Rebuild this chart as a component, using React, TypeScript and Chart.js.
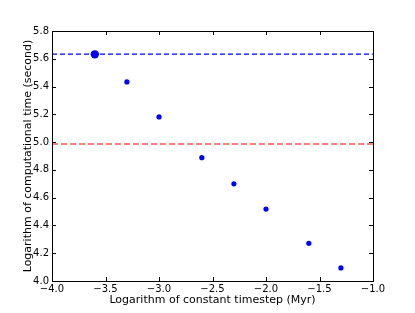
import React, { useEffect, useRef } from "react";
import { Chart, registerables } from "chart.js";

Chart.register(...registerables);

const timestepLog = [-3.6, -3.3, -3.0, -2.6, -2.3, -2.0, -1.6, -1.3];
const compTimeLog = [5.632, 5.433, 5.181, 4.888, 4.70, 4.518, 4.271, 4.094];
const blueLineY = 5.634;
const redLineY = 4.986;
const xRange = [-4.0, -1.0];
const yRange = [4.0, 5.8];
const xTicks = [-4.0, -3.5, -3.0, -2.5, -2.0, -1.5, -1.0];
const yTicks = [4.0, 4.2, 4.4, 4.6, 4.8, 5.0, 5.2, 5.4, 5.6, 5.8];
const xTitle = "Logarithm of constant timestep (Myr)";
const yTitle = "Logarithm of computational time (second)";

const fmt = (v: number) => {
  const s = Math.abs(v).toFixed(1);
  return v < 0 ? "\u2212" + s : s;
};

const framePlugin = {
  id: "frameTicks",
  afterDatasetsDraw(chart: any) {
    const { ctx, chartArea } = chart;
    const { left, right, top, bottom } = chartArea;
    const xs = chart.scales.x;
    const ys = chart.scales.y;
    ctx.save();
    ctx.strokeStyle = "#000";
    ctx.lineWidth = 1;
    const tl = 4;
    ctx.beginPath();
    xTicks.forEach((t) => {
      const px = Math.round(xs.getPixelForValue(t)) + 0.5;
      ctx.moveTo(px, bottom);
      ctx.lineTo(px, bottom - tl);
      ctx.moveTo(px, top);
      ctx.lineTo(px, top + tl);
    });
    yTicks.forEach((t) => {
      const py = Math.round(ys.getPixelForValue(t)) + 0.5;
      ctx.moveTo(left, py);
      ctx.lineTo(left + tl, py);
      ctx.moveTo(right, py);
      ctx.lineTo(right - tl, py);
    });
    ctx.stroke();
    ctx.strokeRect(Math.round(left) + 0.5, Math.round(top) + 0.5, Math.round(right - left), Math.round(bottom - top));
    ctx.restore();
  },
};

export default function App() {
  const ref = useRef<HTMLCanvasElement>(null);
  useEffect(() => {
    if (!ref.current) return;
    const font = { family: "'DejaVu Sans', sans-serif", size: 10 };
    const titleFont = { family: "'DejaVu Sans', sans-serif", size: 11 };
    const chart = new Chart(ref.current, {
      type: "scatter",
      data: {
        datasets: [
          {
            data: timestepLog.map((x, i) => ({ x, y: compTimeLog[i] })),
            backgroundColor: "#0000ff",
            borderColor: "#0000ff",
            pointRadius: (c: any) => (c.dataIndex === 0 ? 4.2 : 2.6),
            pointBorderWidth: 0,
            showLine: false,
          },
          {
            data: [
              { x: xRange[0], y: blueLineY },
              { x: xRange[1], y: blueLineY },
            ],
            showLine: true,
            borderColor: "#0000ff",
            borderWidth: 1.3,
            borderDash: [5, 3],
            pointRadius: 0,
          },
          {
            data: [
              { x: xRange[0], y: redLineY },
              { x: xRange[1], y: redLineY },
            ],
            showLine: true,
            borderColor: "rgba(255,0,0,0.5)",
            borderWidth: 2,
            borderDash: [6, 3],
            pointRadius: 0,
          },
        ],
      } as any,
      plugins: [framePlugin],
      options: {
        animation: false,
        responsive: false,
        layout: { padding: { top: 31, right: 42, left: 0, bottom: 0 } },
        plugins: { legend: { display: false }, tooltip: { enabled: false } },
        scales: {
          x: {
            type: "linear",
            min: xRange[0],
            max: xRange[1],
            afterBuildTicks: (s: any) => {
              s.ticks = xTicks.map((v) => ({ value: v }));
            },
            afterFit: (s: any) => {
              s.height = 32;
            },
            grid: { display: false, drawTicks: false },
            border: { display: false },
            ticks: {
              color: "#000",
              font,
              padding: 2,
              maxRotation: 0,
              autoSkip: false,
              callback: (v: any) => fmt(Number(v)),
            },
            title: {
              display: true,
              text: xTitle,
              color: "#000",
              font: titleFont,
              padding: { top: 0, bottom: 6 },
            },
          },
          y: {
            type: "linear",
            min: yRange[0],
            max: yRange[1],
            afterBuildTicks: (s: any) => {
              s.ticks = yTicks.map((v) => ({ value: v }));
            },
            afterFit: (s: any) => {
              s.width = 52;
            },
            grid: { display: false, drawTicks: false },
            border: { display: false },
            ticks: {
              color: "#000",
              font,
              padding: 3,
              autoSkip: false,
              callback: (v: any) => fmt(Number(v)),
            },
            title: {
              display: true,
              text: yTitle,
              color: "#000",
              font: titleFont,
              padding: { top: 21.5, bottom: 0 },
            },
          },
        },
      } as any,
    });
    return () => chart.destroy();
  }, []);
  return (
    <div style={{ position: "fixed", left: 0, top: 0, width: 415, height: 313, background: "#fff" }}>
      <canvas ref={ref} width={415} height={313} style={{ width: 415, height: 313 }} />
    </div>
  );
}
